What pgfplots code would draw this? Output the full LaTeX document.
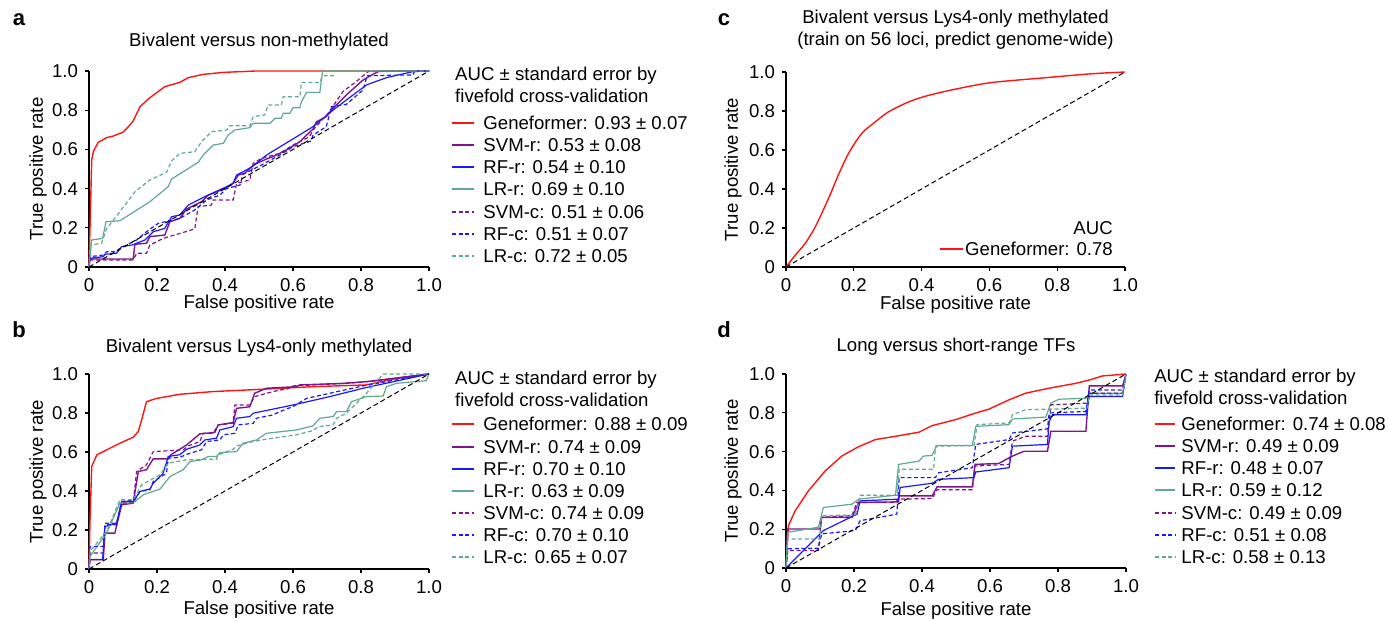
\documentclass[border=0pt]{standalone}
\usepackage{fontspec}
\setmainfont{Liberation Sans}
\usepackage{pgfplots}
\pgfplotsset{compat=1.18}
\definecolor{cRed}{RGB}{255,20,20}
\definecolor{cPur}{RGB}{128,20,140}
\definecolor{cBlu}{RGB}{25,25,255}
\definecolor{cGrn}{RGB}{95,170,140}
\newcommand\fsz{\fontsize{9.3pt}{11pt}\selectfont}
% legend row: style, x-start, x-end, x-text, y, text
\newcommand\legrow[6]{%
  \draw[#1] (axis description cs:#2,#5) -- (axis description cs:#3,#5);
  \node[anchor=west, font=\fsz, inner sep=0pt, text height=6.6pt, text depth=0pt] at (axis description cs:#4,#5) {#6};}
\tikzset{
  gf/.style={cRed, line width=0.7pt},
  svmr/.style={cPur, line width=0.7pt},
  rfr/.style={cBlu, line width=0.6pt},
  lrr/.style={cGrn, line width=0.6pt},
  svmc/.style={cPur, line width=0.6pt, dash pattern=on 2pt off 1.3pt},
  rfc/.style={cBlu, line width=0.6pt, dash pattern=on 2pt off 1.3pt},
  lrc/.style={cGrn, line width=0.6pt, dash pattern=on 2pt off 1.3pt},
  diag/.style={black, line width=0.5pt, dash pattern=on 2.5pt off 1.5pt},
}
\pgfplotsset{
  rocax/.style={
    scale only axis, anchor=south west, clip=false,
    xmin=0,xmax=1,ymin=0,ymax=1,
    axis x line*=bottom, axis y line*=left,
    axis line style={line width=0.6pt,-},
    tick align=outside, major tick length=2pt,
    tick style={line width=0.6pt, black},
    xtick={0,0.2,0.4,0.6,0.8,1}, ytick={0,0.2,0.4,0.6,0.8,1},
    xticklabels={0,0.2,0.4,0.6,0.8,1.0}, yticklabels={0,0.2,0.4,0.6,0.8,1.0},
    ticklabel style={font=\fsz},
    xlabel={False positive rate}, ylabel={True positive rate},
    label style={font=\fsz},
    ylabel style={at={(axis description cs:-0.15,0.5)}, anchor=center},
    title style={font=\fsz, anchor=center, align=center},
  },
}
\begin{document}
\begin{tikzpicture}
\useasboundingbox (0,0) rectangle (694pt,309pt);
\node[font=\bfseries\fontsize{11pt}{13pt}\selectfont] at (9.5pt,299pt) {a};
\node[font=\bfseries\fontsize{11pt}{13pt}\selectfont] at (9.5pt,144pt) {b};
\node[font=\bfseries\fontsize{11pt}{13pt}\selectfont] at (362pt,299pt) {c};
\node[font=\bfseries\fontsize{11pt}{13pt}\selectfont] at (362pt,144pt) {d};

% ---------------- panel a
\begin{axis}[rocax, at={(44.5pt,175.5pt)}, width=170pt, height=98pt,
  title={Bivalent versus non-methylated},
  title style={at={(axis description cs:0.5,1.086)}},
  xlabel style={at={(axis description cs:0.5,-0.189)}, anchor=center}]
\addplot[gf] coordinates {(0,0) (0.003,0.2) (0.008,0.546) (0.013,0.59) (0.027,0.636) (0.052,0.66) (0.071,0.668) (0.099,0.687) (0.116,0.716) (0.13,0.745) (0.15,0.818) (0.179,0.864) (0.223,0.92) (0.267,0.942) (0.292,0.966) (0.336,0.983) (0.395,0.993) (0.49,1.0) (1,1)};
\addplot[svmr] coordinates {(0,0) (0.003,0.041) (0.13,0.041) (0.135,0.116) (0.169,0.121) (0.179,0.155) (0.223,0.163) (0.238,0.231) (0.267,0.248) (0.287,0.296) (0.331,0.333) (0.351,0.367) (0.4,0.401) (0.424,0.427) (0.439,0.469) (0.458,0.478) (0.483,0.52) (0.522,0.551) (0.541,0.563) (0.581,0.597) (0.62,0.639) (0.64,0.673) (0.659,0.704) (0.669,0.741) (0.698,0.767) (0.718,0.81) (0.757,0.878) (0.806,0.954) (0.835,0.983) (0.855,1.0) (1,1)};
\addplot[rfr] coordinates {(0,0) (0.003,0.044) (0.042,0.053) (0.047,0.065) (0.081,0.07) (0.096,0.104) (0.126,0.112) (0.165,0.138) (0.189,0.18) (0.223,0.197) (0.243,0.257) (0.267,0.265) (0.292,0.316) (0.341,0.359) (0.405,0.41) (0.424,0.427) (0.434,0.469) (0.478,0.509) (0.522,0.571) (0.659,0.716) (0.718,0.801) (0.816,0.929) (0.875,0.966) (0.953,0.997) (1,1)};
\addplot[lrr] coordinates {(0,0) (0.008,0.138) (0.04,0.146) (0.05,0.231) (0.091,0.236) (0.179,0.333) (0.233,0.41) (0.243,0.449) (0.321,0.534) (0.336,0.571) (0.365,0.622) (0.395,0.631) (0.409,0.673) (0.429,0.699) (0.473,0.711) (0.483,0.733) (0.532,0.733) (0.547,0.759) (0.566,0.759) (0.571,0.784) (0.591,0.784) (0.6,0.813) (0.62,0.813) (0.625,0.844) (0.64,0.891) (0.679,0.891) (0.687,1.0) (1,1)};
\addplot[svmc] coordinates {(0,0) (0.003,0.036) (0.13,0.036) (0.14,0.07) (0.169,0.07) (0.179,0.112) (0.218,0.146) (0.311,0.194) (0.321,0.308) (0.36,0.316) (0.365,0.342) (0.424,0.342) (0.434,0.427) (0.473,0.444) (0.483,0.529) (0.507,0.554) (0.561,0.58) (0.6,0.622) (0.649,0.665) (0.659,0.699) (0.703,0.784) (0.747,0.895) (0.786,0.946) (0.821,0.997) (1,1)};
\addplot[rfc] coordinates {(0,0) (0.003,0.053) (0.042,0.061) (0.052,0.078) (0.076,0.078) (0.096,0.099) (0.14,0.138) (0.169,0.18) (0.204,0.223) (0.267,0.248) (0.311,0.291) (0.346,0.342) (0.385,0.367) (0.405,0.401) (0.444,0.418) (0.453,0.473) (0.507,0.52) (0.561,0.571) (0.6,0.614) (0.654,0.643) (0.659,0.673) (0.698,0.716) (0.713,0.818) (0.757,0.83) (0.806,0.903) (0.818,0.976) (0.953,0.98) (0.958,1.0) (1,1)};
\addplot[lrc] coordinates {(0,0) (0.003,0.112) (0.037,0.121) (0.052,0.197) (0.091,0.282) (0.135,0.384) (0.179,0.444) (0.228,0.483) (0.243,0.541) (0.267,0.58) (0.311,0.588) (0.331,0.639) (0.36,0.69) (0.405,0.699) (0.414,0.721) (0.473,0.721) (0.483,0.767) (0.517,0.776) (0.527,0.827) (0.566,0.827) (0.571,0.869) (0.62,0.869) (0.625,0.942) (0.679,0.942) (0.687,0.976) (0.718,0.976) (0.722,1.0) (1,1)};
\addplot[diag] coordinates {(0,0) (1,1)};
\node[anchor=base west, align=left, font=\fsz, inner sep=0pt] at (axis description cs:1.076,0.837) {AUC ± standard error by\\fivefold cross-validation};
\legrow{gf}{1.068}{1.132}{1.159}{0.735}{Geneformer: 0.93 ± 0.07}
\legrow{svmr}{1.068}{1.132}{1.159}{0.622}{SVM-r: 0.53 ± 0.08}
\legrow{rfr}{1.068}{1.132}{1.159}{0.510}{RF-r: 0.54 ± 0.10}
\legrow{lrr}{1.068}{1.132}{1.159}{0.398}{LR-r: 0.69 ± 0.10}
\legrow{svmc}{1.068}{1.132}{1.159}{0.281}{SVM-c: 0.51 ± 0.06}
\legrow{rfc}{1.068}{1.132}{1.159}{0.168}{RF-c: 0.51 ± 0.07}
\legrow{lrc}{1.068}{1.132}{1.159}{0.056}{LR-c: 0.72 ± 0.05}
\end{axis}

% ---------------- panel b
\begin{axis}[rocax, at={(44.5pt,24.5pt)}, width=170pt, height=97.5pt,
  title={Bivalent versus Lys4-only methylated},
  title style={at={(axis description cs:0.5,1.071)}},
  xlabel style={at={(axis description cs:0.5,-0.21)}, anchor=center}]
\addplot[gf] coordinates {(0,0) (0.003,0.25) (0.008,0.526) (0.023,0.585) (0.052,0.611) (0.091,0.645) (0.13,0.676) (0.145,0.705) (0.155,0.765) (0.169,0.858) (0.199,0.875) (0.267,0.896) (0.365,0.91) (0.512,0.922) (0.659,0.935) (0.816,0.944) (0.904,0.978) (1,1)};
\addplot[svmr] coordinates {(0,0) (0.003,0.048) (0.042,0.048) (0.047,0.184) (0.076,0.184) (0.096,0.329) (0.13,0.338) (0.145,0.5) (0.169,0.509) (0.189,0.565) (0.233,0.565) (0.24,0.585) (0.287,0.636) (0.326,0.693) (0.37,0.7) (0.38,0.739) (0.424,0.751) (0.434,0.824) (0.473,0.832) (0.487,0.901) (0.522,0.927) (0.61,0.935) (0.62,0.944) (0.747,0.952) (0.816,0.961) (1,1)};
\addplot[rfr] coordinates {(0,0) (0.003,0.048) (0.04,0.048) (0.047,0.218) (0.081,0.235) (0.096,0.346) (0.13,0.346) (0.15,0.398) (0.179,0.41) (0.189,0.44) (0.218,0.491) (0.233,0.577) (0.267,0.586) (0.287,0.614) (0.326,0.636) (0.341,0.662) (0.375,0.671) (0.385,0.713) (0.424,0.73) (0.434,0.773) (0.473,0.782) (0.483,0.799) (0.6,0.841) (0.708,0.884) (0.806,0.927) (1,1)};
\addplot[lrr] coordinates {(0,0) (0.003,0.065) (0.052,0.184) (0.091,0.338) (0.13,0.338) (0.16,0.381) (0.209,0.41) (0.238,0.474) (0.277,0.509) (0.297,0.551) (0.331,0.56) (0.351,0.577) (0.375,0.577) (0.385,0.597) (0.434,0.602) (0.453,0.645) (0.493,0.662) (0.522,0.696) (0.61,0.713) (0.659,0.734) (0.679,0.773) (0.718,0.782) (0.728,0.807) (0.757,0.807) (0.772,0.858) (0.816,0.884) (0.865,0.887) (0.875,0.935) (0.904,0.952) (0.992,0.966) (1,1)};
\addplot[svmc] coordinates {(0,0) (0.003,0.082) (0.042,0.082) (0.047,0.235) (0.081,0.235) (0.096,0.338) (0.13,0.338) (0.14,0.5) (0.169,0.534) (0.189,0.602) (0.277,0.611) (0.292,0.631) (0.326,0.654) (0.336,0.696) (0.365,0.696) (0.38,0.739) (0.424,0.747) (0.429,0.841) (0.473,0.841) (0.487,0.884) (0.522,0.901) (0.561,0.918) (0.581,0.922) (0.6,0.939) (0.757,0.952) (0.855,0.966) (1,1)};
\addplot[rfc] coordinates {(0,0) (0.003,0.116) (0.042,0.116) (0.047,0.227) (0.081,0.227) (0.096,0.346) (0.135,0.355) (0.15,0.398) (0.179,0.406) (0.189,0.449) (0.228,0.491) (0.233,0.568) (0.267,0.573) (0.297,0.594) (0.331,0.611) (0.346,0.654) (0.385,0.662) (0.395,0.688) (0.429,0.696) (0.439,0.739) (0.483,0.747) (0.492,0.773) (0.541,0.79) (0.561,0.807) (0.6,0.833) (0.64,0.875) (0.708,0.901) (0.806,0.939) (1,1)};
\addplot[lrc] coordinates {(0,0) (0.003,0.09) (0.052,0.193) (0.091,0.355) (0.13,0.355) (0.155,0.432) (0.209,0.483) (0.233,0.543) (0.287,0.56) (0.375,0.563) (0.38,0.585) (0.424,0.614) (0.434,0.631) (0.483,0.654) (0.522,0.666) (0.61,0.688) (0.659,0.71) (0.674,0.73) (0.718,0.739) (0.728,0.773) (0.757,0.799) (0.777,0.833) (0.816,0.901) (0.865,1.0) (1,1)};
\addplot[diag] coordinates {(0,0) (1,1)};
\node[anchor=base west, align=left, font=\fsz, inner sep=0pt] at (axis description cs:1.076,0.831) {AUC ± standard error by\\fivefold cross-validation};
\legrow{gf}{1.068}{1.132}{1.159}{0.744}{Geneformer: 0.88 ± 0.09}
\legrow{svmr}{1.068}{1.132}{1.159}{0.626}{SVM-r: 0.74 ± 0.09}
\legrow{rfr}{1.068}{1.132}{1.159}{0.513}{RF-r: 0.70 ± 0.10}
\legrow{lrr}{1.068}{1.132}{1.159}{0.400}{LR-r: 0.63 ± 0.09}
\legrow{svmc}{1.068}{1.132}{1.159}{0.287}{SVM-c: 0.74 ± 0.09}
\legrow{rfc}{1.068}{1.132}{1.159}{0.174}{RF-c: 0.70 ± 0.10}
\legrow{lrc}{1.068}{1.132}{1.159}{0.062}{LR-c: 0.65 ± 0.07}
\end{axis}

% ---------------- panel c
\begin{axis}[rocax, at={(393pt,175.5pt)}, width=169.5pt, height=97.5pt,
  title={Bivalent versus Lys4-only methylated\\(train on 56 loci, predict genome-wide)},
  title style={at={(axis description cs:0.5,1.157)}},
  xlabel style={at={(axis description cs:0.5,-0.195)}, anchor=center},
  ylabel style={at={(axis description cs:-0.156,0.5)}}]
\addplot[gf, smooth] coordinates {(0,0) (0.027,0.06) (0.056,0.12) (0.086,0.205) (0.125,0.35) (0.154,0.47) (0.184,0.581) (0.223,0.684) (0.263,0.744) (0.302,0.795) (0.361,0.846) (0.42,0.88) (0.508,0.915) (0.607,0.946) (0.754,0.969) (0.902,0.991) (1,1)};
\addplot[diag] coordinates {(0,0) (1,1)};
\node[anchor=base east, font=\fsz, inner sep=0pt] at (axis description cs:0.965,0.167) {AUC};
\draw[gf] (axis description cs:0.454,0.092) -- (axis description cs:0.522,0.092);
\node[anchor=east, font=\fsz, inner sep=0pt, text height=6.6pt, text depth=0pt] at (axis description cs:0.965,0.092) {Geneformer: 0.78};
\end{axis}

% ---------------- panel d
\begin{axis}[rocax, at={(393pt,25pt)}, width=170pt, height=97pt,
  title={Long versus short-range TFs},
  title style={at={(axis description cs:0.5,1.077)}},
  xlabel style={at={(axis description cs:0.5,-0.222)}, anchor=center},
  ylabel style={at={(axis description cs:-0.156,0.5)}}]
\addplot[gf] coordinates {(0,0) (0.007,0.218) (0.027,0.295) (0.066,0.398) (0.115,0.5) (0.164,0.577) (0.213,0.625) (0.263,0.662) (0.322,0.679) (0.391,0.7) (0.43,0.734) (0.499,0.765) (0.558,0.799) (0.597,0.819) (0.656,0.867) (0.705,0.901) (0.774,0.927) (0.853,0.952) (0.892,0.969) (0.931,0.99) (1,1)};
\addplot[svmr] coordinates {(0,0) (0.005,0.201) (0.1,0.201) (0.105,0.261) (0.194,0.261) (0.214,0.338) (0.331,0.341) (0.333,0.372) (0.43,0.372) (0.444,0.418) (0.548,0.418) (0.556,0.534) (0.626,0.539) (0.656,0.568) (0.666,0.577) (0.7,0.602) (0.769,0.602) (0.779,0.705) (0.882,0.705) (0.892,0.939) (0.99,0.939) (1,1)};
\addplot[rfr] coordinates {(0,0) (0.11,0.193) (0.209,0.278) (0.218,0.346) (0.331,0.355) (0.336,0.415) (0.43,0.437) (0.449,0.457) (0.553,0.466) (0.558,0.495) (0.656,0.517) (0.666,0.628) (0.769,0.637) (0.774,0.756) (0.784,0.79) (0.882,0.79) (0.892,0.884) (0.99,0.884) (1,1)};
\addplot[lrr] coordinates {(0,0) (0.005,0.184) (0.095,0.21) (0.11,0.312) (0.194,0.329) (0.214,0.355) (0.322,0.375) (0.331,0.534) (0.391,0.551) (0.405,0.577) (0.429,0.58) (0.444,0.631) (0.548,0.631) (0.558,0.73) (0.656,0.739) (0.666,0.768) (0.764,0.778) (0.779,0.85) (0.803,0.87) (0.882,0.875) (0.892,0.901) (0.99,0.901) (1,1)};
\addplot[svmc] coordinates {(0,0) (0.005,0.09) (0.095,0.09) (0.105,0.261) (0.194,0.27) (0.208,0.338) (0.322,0.338) (0.331,0.355) (0.43,0.358) (0.444,0.403) (0.548,0.403) (0.556,0.526) (0.656,0.534) (0.666,0.654) (0.705,0.679) (0.769,0.679) (0.779,0.841) (0.887,0.85) (0.892,0.901) (0.99,0.901) (1,1)};
\addplot[rfc] coordinates {(0,0) (0.005,0.099) (0.095,0.102) (0.105,0.176) (0.204,0.193) (0.218,0.244) (0.302,0.27) (0.326,0.278) (0.333,0.466) (0.439,0.466) (0.449,0.491) (0.548,0.517) (0.558,0.637) (0.656,0.662) (0.666,0.696) (0.769,0.717) (0.774,0.799) (0.882,0.807) (0.892,0.918) (0.99,0.918) (1,1)};
\addplot[lrc] coordinates {(0,0) (0.005,0.15) (0.1,0.15) (0.105,0.27) (0.204,0.273) (0.218,0.375) (0.326,0.375) (0.333,0.509) (0.434,0.509) (0.44,0.628) (0.553,0.631) (0.562,0.739) (0.656,0.748) (0.666,0.79) (0.705,0.816) (0.784,0.819) (0.887,0.824) (0.892,0.892) (0.99,0.892) (1,1)};
\addplot[diag] coordinates {(0,0) (1,1)};
\node[anchor=base west, align=left, font=\fsz, inner sep=0pt] at (axis description cs:1.082,0.845) {AUC ± standard error by\\fivefold cross-validation};
\legrow{gf}{1.085}{1.144}{1.162}{0.742}{Geneformer: 0.74 ± 0.08}
\legrow{svmr}{1.085}{1.144}{1.162}{0.629}{SVM-r: 0.49 ± 0.09}
\legrow{rfr}{1.085}{1.144}{1.162}{0.515}{RF-r: 0.48 ± 0.07}
\legrow{lrr}{1.085}{1.144}{1.162}{0.402}{LR-r: 0.59 ± 0.12}
\legrow{svmc}{1.085}{1.144}{1.162}{0.284}{SVM-c: 0.49 ± 0.09}
\legrow{rfc}{1.085}{1.144}{1.162}{0.170}{RF-c: 0.51 ± 0.08}
\legrow{lrc}{1.085}{1.144}{1.162}{0.057}{LR-c: 0.58 ± 0.13}
\end{axis}
\end{tikzpicture}
\end{document}
